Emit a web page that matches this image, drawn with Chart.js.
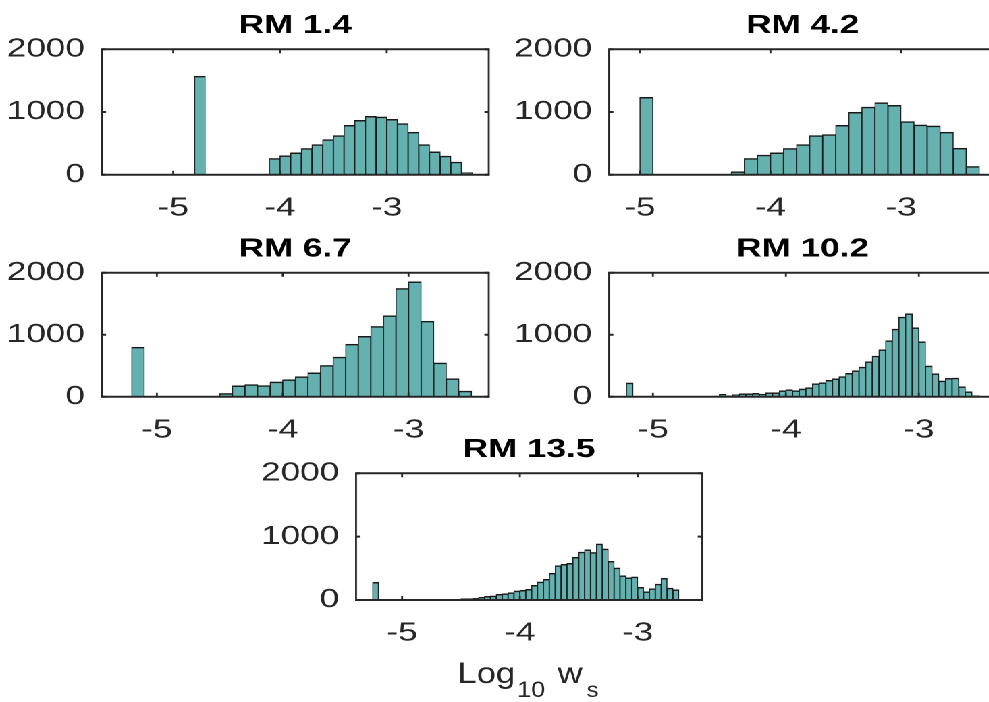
<!DOCTYPE html>
<html>
<head>
<meta charset="utf-8">
<script src="https://cdn.jsdelivr.net/npm/chart.js@4.4.0/dist/chart.umd.min.js"></script>
<style>
  html, body { margin: 0; padding: 0; background: #fff; overflow: hidden; }
  body { width: 989px; height: 702px; position: relative; }
  #stage { position: absolute; left: 0; top: 0; width: 733px; height: 702px; transform: scaleX(1.35); transform-origin: 0 0; }
  #stage canvas { position: absolute; }
</style>
</head>
<body>
<div id="stage"></div>
<script>
// histogram data, one panel per RM value
const panelTitles = ["RM 1.4", "RM 4.2", "RM 6.7", "RM 10.2", "RM 13.5"];
const binWidths = [0.1, 0.1, 0.1, 0.05, 0.05];
const spikeEdges = [-4.8, -5.0, -5.2, -5.2, -5.25];
const spikeCounts = [1570, 1233, 799, 222, 279];
const firstEdges = [-4.1, -4.3, -4.5, -4.55, -4.55];
const counts14 = [259, 302, 349, 418, 481, 561, 624, 788, 868, 931, 921, 884, 815, 677, 481, 365, 296, 201, 32];
const counts42 = [48, 259, 312, 349, 418, 481, 624, 640, 788, 995, 1079, 1148, 1106, 847, 794, 778, 677, 423, 132];
const counts67 = [53, 175, 196, 180, 238, 275, 323, 386, 503, 640, 847, 974, 1132, 1307, 1746, 1852, 1217, 545, 291, 90];
const counts102 = [10, 38, 16, 32, 48, 48, 54, 40, 65, 65, 97, 113, 97, 124, 145, 210, 226, 264, 290, 325,
  376, 419, 478, 565, 656, 758, 903, 1091, 1285, 1339, 1113, 887, 495, 371, 253, 296, 301, 161, 81, 16];
const counts135 = [10, 21, 21, 26, 42, 58, 63, 89, 100, 116, 142, 153, 168, 231, 284, 326, 421, 542, 563, 579,
  673, 757, 794, 750, 884, 805, 610, 505, 384, 352, 363, 200, 131, 179, 252, 342, 189, 163, 10];
const panelCounts = [counts14, counts42, counts67, counts102, counts135];
const xTicks = [-5, -4, -3];
const yTicks = [0, 1000, 2000];
const yMax = 2000;

// layout: plot boxes in page px, and x limits of each axes
const panels = [
  { left: 101.7, top: 49.3, right: 487.7, bottom: 174.7, xMin: -5.669, xMax: -2.045 },
  { left: 609, top: 49.3, right: 995, bottom: 174.7, xMin: -5.236, xMax: -2.270 },
  { left: 101.7, top: 272.7, right: 487.7, bottom: 396.7, xMin: -5.438, xMax: -2.363 },
  { left: 609, top: 272.7, right: 995, bottom: 396.7, xMin: -5.33, xMax: -2.417 },
  { left: 356, top: 473.3, right: 701.7, bottom: 600, xMin: -5.391, xMax: -2.453 },
];
const stretch = 1.35;
const labelStretch = 1.15;
const yAxisWidth = 72;
const titleBlock = 39.5;
const rightPad = 8;

const fontFamily = '"Liberation Sans", Arial, Helvetica, sans-serif';
const axisColor = "#262626";
const barFill = "rgb(100, 177, 176)";
const barEdge = "#1a1a1a";

Chart.defaults.font.family = fontFamily;

const xLabelParts = [
  { text: "Log", x: 457.5, y: 683, size: 30 },
  { text: "10", x: 517, y: 697, size: 22 },
  { text: "w", x: 557.5, y: 683, size: 30 },
  { text: "s", x: 586.5, y: 697, size: 21 },
];

const axesBox = {
  id: "axesBox",
  afterDraw(chart) {
    const { ctx, chartArea: a, scales } = chart;
    ctx.save();
    ctx.strokeStyle = axisColor;
    ctx.lineWidth = 2;
    ctx.beginPath();
    ctx.moveTo(a.left - 0.7, a.top); ctx.lineTo(a.right + 0.7, a.top);
    ctx.moveTo(a.left - 0.7, a.bottom); ctx.lineTo(a.right + 0.7, a.bottom);
    ctx.stroke();
    ctx.lineWidth = 1.4;
    ctx.beginPath();
    ctx.moveTo(a.left, a.top); ctx.lineTo(a.left, a.bottom);
    ctx.moveTo(a.right, a.top); ctx.lineTo(a.right, a.bottom);
    xTicks.forEach((v) => {
      const px = scales.x.getPixelForValue(v);
      ctx.moveTo(px, a.bottom); ctx.lineTo(px, a.bottom - 4);
      ctx.moveTo(px, a.top); ctx.lineTo(px, a.top + 4);
    });
    ctx.stroke();
    ctx.lineWidth = 2;
    ctx.beginPath();
    yTicks.forEach((v) => {
      const py = scales.y.getPixelForValue(v);
      ctx.moveTo(a.left, py); ctx.lineTo(a.left + 3.2, py);
      ctx.moveTo(a.right, py); ctx.lineTo(a.right - 3.2, py);
    });
    ctx.stroke();
    ctx.restore();
  },
};

const stage = document.getElementById("stage");

panels.forEach((box, i) => {
  const L = box.left / stretch;
  const R = box.right / stretch;
  const cLeft = Math.round(L - yAxisWidth);
  const cTop = Math.round(box.top - titleBlock);
  const yW = L - cLeft;
  const titleH = box.top - cTop;
  const plotH = box.bottom - box.top;
  const isLast = i === panels.length - 1;
  const cHeight = isLast ? 702 - cTop : Math.round(titleH + plotH + 52);
  const cWidth = Math.ceil(R - cLeft + rightPad);
  const xH = cHeight - titleH - plotH;

  const canvas = document.createElement("canvas");
  canvas.width = cWidth;
  canvas.height = cHeight;
  canvas.style.left = cLeft + "px";
  canvas.style.top = cTop + "px";
  stage.appendChild(canvas);

  const w = binWidths[i];
  const points = [{ x: spikeEdges[i] + w / 2, y: spikeCounts[i] }].concat(
    panelCounts[i].map((c, k) => ({ x: firstEdges[i] + (k + 0.5) * w, y: c }))
  );

  const xLabel = {
    id: "xLabel",
    afterDraw(chart) {
      const ctx = chart.ctx;
      ctx.save();
      ctx.fillStyle = axisColor;
      ctx.textAlign = "left";
      ctx.textBaseline = "alphabetic";
      xLabelParts.forEach((p) => {
        ctx.save();
        ctx.translate(p.x / stretch - cLeft, p.y - cTop);
        ctx.scale(labelStretch / stretch, 1);
        ctx.font = p.size + "px " + fontFamily;
        ctx.fillText(p.text, 0, 0);
        ctx.restore();
      });
      ctx.restore();
    },
  };

  const tickFont = { family: fontFamily, size: 26 };

  new Chart(canvas, {
    type: "bar",
    data: {
      datasets: [
        {
          data: points,
          backgroundColor: barFill,
          borderColor: barEdge,
          borderWidth: { top: 1.5, left: 0.8, right: 0.8, bottom: 0 },
          barPercentage: 1,
          categoryPercentage: 1,
        },
      ],
    },
    options: {
      responsive: false,
      animation: false,
      devicePixelRatio: 2,
      events: [],
      layout: { padding: { top: 0, left: 0, right: rightPad, bottom: 0 } },
      scales: {
        x: {
          type: "linear",
          min: box.xMin,
          max: box.xMax,
          offset: false,
          grid: { display: false, drawTicks: false, offset: false },
          border: { display: false },
          afterBuildTicks: (s) => { s.ticks = xTicks.map((v) => ({ value: v })); },
          afterFit: (s) => { s.height = xH; },
          ticks: {
            padding: 17.9,
            font: tickFont,
            color: axisColor,
            maxRotation: 0,
            autoSkip: false,
            callback: (v) => String(v),
          },
        },
        y: {
          min: 0,
          max: yMax,
          grid: { display: false, drawTicks: false },
          border: { display: false },
          afterBuildTicks: (s) => { s.ticks = yTicks.map((v) => ({ value: v })); },
          afterFit: (s) => { s.width = yW; },
          ticks: {
            padding: 12.5,
            font: tickFont,
            color: axisColor,
            callback: (v) => String(v),
          },
        },
      },
      plugins: {
        legend: { display: false },
        tooltip: { enabled: false },
        title: {
          display: true,
          text: panelTitles[i],
          fullSize: false,
          color: "#000",
          font: { family: fontFamily, size: 26, weight: "bold", lineHeight: 1 },
          padding: { top: titleH - 26 - 10.5, bottom: 10.5 },
        },
      },
    },
    plugins: isLast ? [axesBox, xLabel] : [axesBox],
  });
});
</script>
</body>
</html>
